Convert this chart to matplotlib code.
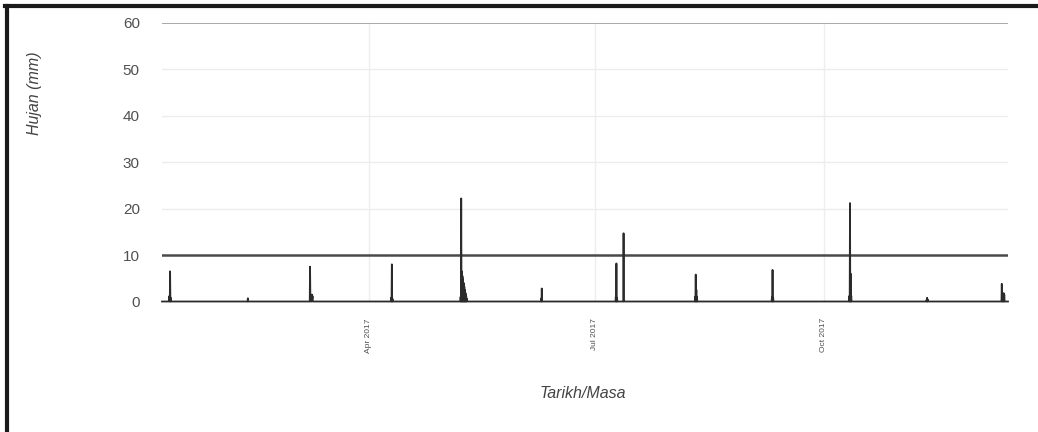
import matplotlib
matplotlib.use("Agg")
import matplotlib.pyplot as plt
import matplotlib.dates as mdates
from matplotlib.lines import Line2D
import pandas as pd

plt.rcParams['font.family'] = ['Liberation Sans', 'DejaVu Sans']

# period covered by the record (3-hourly readings)
start_date = '2017-01-08'
end_date = '2017-12-14'

# rainy readings (everything else is 0 mm)
rain_times = ['2017-01-10 21:00', '2017-01-11 00:00', '2017-01-11 06:00', '2017-01-11 12:00',
              '2017-02-11 12:00',
              '2017-03-08 12:00', '2017-03-08 15:00', '2017-03-09 06:00', '2017-03-09 09:00',
              '2017-03-09 12:00',
              '2017-04-10 03:00', '2017-04-10 09:00', '2017-04-10 15:00',
              '2017-05-08 00:00', '2017-05-08 06:00', '2017-05-08 12:00', '2017-05-08 18:00',
              '2017-05-09 00:00', '2017-05-09 06:00', '2017-05-09 12:00', '2017-05-09 18:00',
              '2017-05-10 00:00', '2017-05-10 06:00', '2017-05-10 12:00',
              '2017-06-09 09:00', '2017-06-09 15:00',
              '2017-07-09 09:00', '2017-07-09 15:00', '2017-07-09 21:00',
              '2017-07-12 12:00',
              '2017-08-10 06:00', '2017-08-10 12:00', '2017-08-10 18:00', '2017-08-11 00:00',
              '2017-09-10 03:00', '2017-09-10 09:00', '2017-09-10 15:00',
              '2017-10-11 06:00', '2017-10-11 12:00', '2017-10-11 18:00', '2017-10-12 00:00',
              '2017-11-11 06:00', '2017-11-11 12:00', '2017-11-11 18:00',
              '2017-12-11 12:00', '2017-12-11 18:00', '2017-12-12 06:00', '2017-12-12 12:00']
rain_mm = [0.8, 1.2, 6.5, 0.8,
           0.7,
           7.5, 1.0, 1.5, 0.6, 1.2,
           0.8, 8.0, 0.6,
           1.0, 22.2, 6.5, 5.5, 4.8, 4.0, 3.2, 2.5, 1.8, 1.2, 0.6,
           0.6, 2.8,
           1.0, 8.2, 0.8,
           14.7,
           1.0, 5.8, 2.5, 1.0,
           1.0, 6.8, 0.8,
           1.2, 21.2, 6.0, 1.2,
           0.3, 0.8, 0.4,
           3.8, 1.2, 1.8, 1.5]

threshold = 10
y_ticks = [0, 10, 20, 30, 40, 50, 60]
x_ticks = ['2017-04-01', '2017-07-01', '2017-10-01']

times = pd.date_range(start_date, end_date, freq='3h')
rain = pd.Series(0.0, index=times)
rain[pd.to_datetime(rain_times)] = rain_mm

fig = plt.figure(figsize=(10.38, 4.32), dpi=100)
ax = fig.add_axes([162 / 1038, 1 - 301.5 / 432, 846 / 1038, 278.5 / 432])

# grid
for yv in y_ticks[2:-1]:
    ax.axhline(yv, color='#ececec', lw=1.0, zorder=0)
ax.axhline(60, color='#9a9a9a', lw=1.2, zorder=1)
for xv in x_ticks:
    ax.axvline(pd.Timestamp(xv), color='#eeeeee', lw=1.0, zorder=0)

# rainfall series and threshold
ax.plot(rain.index, rain.values, color='#2b2b2b', lw=1.3, clip_on=False, zorder=3)
ax.axhline(threshold, color='#4a4a4a', lw=1.8, zorder=2)

ax.set_xlim(times[0], times[-1])
ax.set_ylim(0, 60)
ax.set_yticks(y_ticks)
ax.set_xticks(pd.to_datetime(x_ticks))
ax.xaxis.set_major_formatter(mdates.DateFormatter('%b %Y'))
for s in ax.spines.values():
    s.set_visible(False)
ax.tick_params(axis='y', length=0, pad=16, labelsize=11, labelcolor='#505050')
ax.tick_params(axis='x', length=0, pad=12, labelsize=6, labelcolor='#505050',
               labelrotation=90)

fig.text(583 / 1038, 1 - 393 / 432, 'Tarikh/Masa', ha='center', va='center',
         style='italic', fontsize=11.5, color='#444444')
fig.text(35 / 1038, 1 - 93 / 432, 'Hujan (mm)', ha='center', va='center',
         rotation=90, style='italic', fontsize=11.5, color='#444444')

# frame of the scanned figure (top and left edges)
fig.add_artist(Line2D([5 / 1038, 1], [1 - 6 / 432, 1 - 6 / 432],
                      transform=fig.transFigure, color='#1a1a1a', lw=3))
fig.add_artist(Line2D([7 / 1038, 7 / 1038], [0, 1 - 6 / 432],
                      transform=fig.transFigure, color='#1a1a1a', lw=3))

fig.savefig('out.png', dpi=100)
